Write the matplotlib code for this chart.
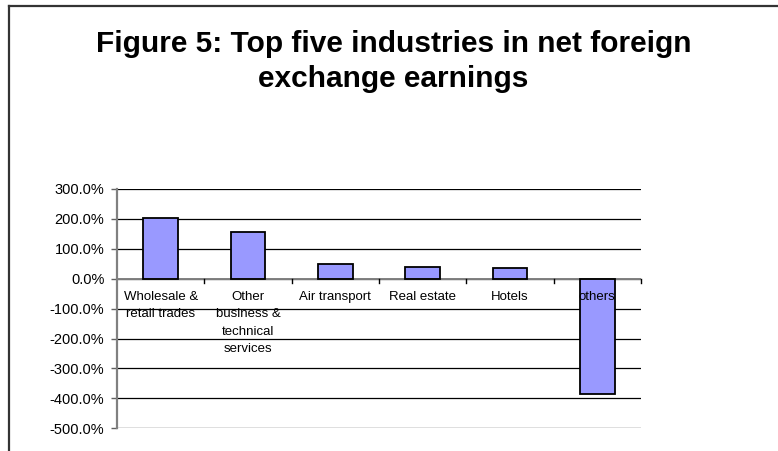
#!/usr/bin/env python3
#
# bar chart of net foreign exchange earnings by industry

import matplotlib
matplotlib.use("Agg")
import matplotlib.pyplot as plt
from matplotlib.ticker import FuncFormatter

industries = ["Wholesale &\nretail trades",
              "Other\nbusiness &\ntechnical\nservices",
              "Air transport",
              "Real estate",
              "Hotels",
              "others"]
share = [204.0, 157.0, 49.0, 39.0, 36.0, -384.0]
yticks = [300, 200, 100, 0, -100, -200, -300, -400, -500]

plt.rcParams['font.family'] = ['Liberation Sans', 'DejaVu Sans']

fig = plt.figure(figsize=(7.78, 4.51), dpi=100)

# outer frame: only the top and left edges show
fig.add_artist(plt.Line2D([9/778, 1.0], [1-5.5/451, 1-5.5/451],
                          transform=fig.transFigure, color="#333333", lw=1.6))
fig.add_artist(plt.Line2D([9/778, 9/778], [0.0, 1-5.5/451],
                          transform=fig.transFigure, color="#333333", lw=1.6))

fig.text(0.506, 1-30/451,
         "Figure 5: Top five industries in net foreign\nexchange earnings",
         ha="center", va="top", fontsize=21.5, fontweight="bold",
         linespacing=1.3)

ax = fig.add_axes([117/778, 1-428.3/451, 524/778, (428.3-189)/451])
x = list(range(len(industries)))
# fill first, outline later so the labels sit between them
ax.bar(x, share, width=0.4, color="#9999ff", linewidth=0, zorder=3)
ax.bar(x, share, width=0.4, fill=False, edgecolor="black",
       linewidth=1.3, zorder=6)

ax.set_xlim(-0.5, len(industries)-0.5)
ax.set_ylim(-500, 300)
ax.set_yticks(yticks)
ax.yaxis.set_major_formatter(FuncFormatter(lambda v, p: "{:.1f}%".format(v)))
ax.tick_params(axis="y", labelsize=10.5, length=4, width=1, color="#606060",
               pad=5)
ax.yaxis.grid(True, color="black", lw=0.9, zorder=0)
ax.set_xticks([])

for side in ["top", "right", "bottom"]:
    ax.spines[side].set_visible(False)
ax.spines["left"].set_color("#808080")
ax.spines["left"].set_linewidth(1.6)

# zero line carries the category ticks
ax.axhline(0, color="#808080", lw=1.4, zorder=4)
for xi in [i+0.5 for i in range(0, len(industries))]:
    ax.plot([xi, xi], [0, -13], color="black", lw=1, zorder=4, clip_on=False)

for xi, name in zip(x, industries):
    ax.annotate(name, (xi, 0), xytext=(0, -12), textcoords="offset pixels",
                ha="center", va="top", fontsize=9.5, linespacing=1.62,
                multialignment="center", zorder=5)

fig.savefig("out.png", dpi=100)
